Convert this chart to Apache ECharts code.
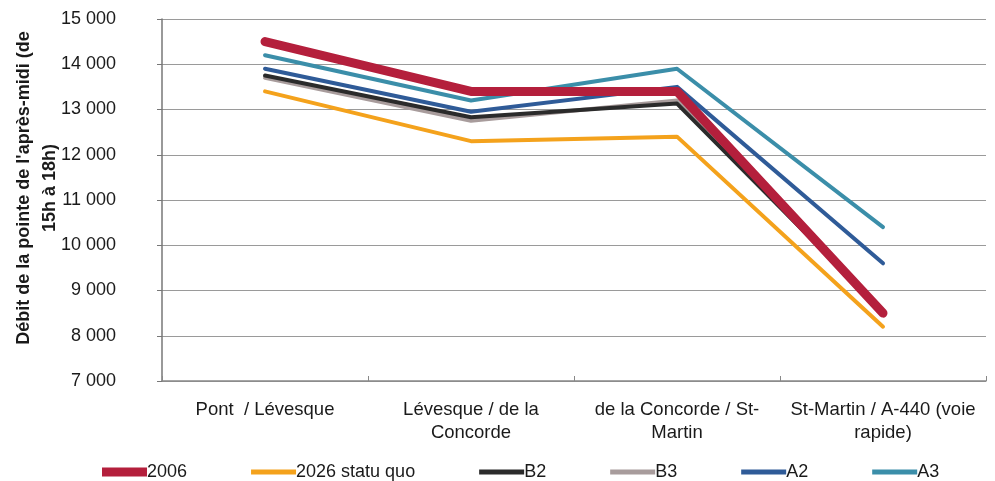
<!DOCTYPE html>
<html>
<head>
<meta charset="utf-8">
<script src="https://cdn.jsdelivr.net/npm/echarts@6/dist/echarts.min.js"></script>
<style>
html,body{margin:0;padding:0;background:#fff;}
#c{width:995px;height:481px;}
</style>
</head>
<body>
<div id="c"></div>
<script>
const categories = ['Pont  / Lévesque', 'Lévesque / de la\nConcorde', 'de la Concorde / St-\nMartin', 'St-Martin / A-440 (voie\nrapide)'];
const s2006 = [14500, 13400, 13400, 8500];
const s2026 = [13400, 12300, 12400, 8200];
const sB2 = [13750, 12830, 13130, 8550];
const sB3 = [13700, 12750, 13200, 8500];
const sA2 = [13900, 12950, 13500, 9600];
const sA3 = [14200, 13200, 13900, 10400];
const yTicks = { min: 7000, max: 15000, interval: 1000 };
const yTitle = "Débit de la pointe de l'après-midi (de\n15h à 18h)";

const FONT = '"Liberation Sans", Arial, sans-serif';
const thick = 'path://M0,0L45,0L45,9L0,9Z';
const thin = 'path://M0,0L45,0L45,5L0,5Z';

const seriesDefs = [
  { name: 'A3', data: sA3, color: '#3b8ea9', width: 4 },
  { name: 'B3', data: sB3, color: '#a89c9c', width: 4 },
  { name: 'B2', data: sB2, color: '#2b2b2b', width: 4 },
  { name: 'A2', data: sA2, color: '#2f5b98', width: 4 },
  { name: '2026 statu quo', data: s2026, color: '#f4a21c', width: 4 },
  { name: '2006', data: s2006, color: '#b41f3c', width: 9 }
];

const chart = echarts.init(document.getElementById('c'));
chart.setOption({
  animation: false,
  backgroundColor: '#fff',
  grid: { left: 162, right: 9, top: 19, bottom: 100, containLabel: false, outerBoundsMode: 'none' },
  legend: {
    left: 97, top: 458,
    itemWidth: 45, itemHeight: 9, itemGap: 64,
    textStyle: { fontFamily: FONT, fontSize: 18, color: '#1a1a1a', padding: [0,0,0,-5] },
    data: [
      { name: '2006', icon: thick },
      { name: '2026 statu quo', icon: thin },
      { name: 'B2', icon: thin },
      { name: 'B3', icon: thin },
      { name: 'A2', icon: thin },
      { name: 'A3', icon: thin }
    ]
  },
  xAxis: {
    type: 'category',
    data: categories,
    boundaryGap: true,
    axisLine: { lineStyle: { color: '#888', width: 1.5 } },
    axisTick: { show: true, inside: true, length: 5, lineStyle: { color: '#888' } },
    axisLabel: { fontFamily: FONT, fontSize: 18.5, color: '#1a1a1a', margin: 17, lineHeight: 23, interval: 0 }
  },
  yAxis: {
    type: 'value',
    min: yTicks.min, max: yTicks.max, interval: yTicks.interval,
    name: yTitle,
    nameLocation: 'middle',
    nameGap: 99,
    nameRotate: 90,
    nameMoveOverlap: false,
    nameTextStyle: { fontFamily: FONT, fontSize: 18, fontWeight: 'bold', color: '#1a1a1a', lineHeight: 26, align: 'center', padding: [0, 0, 0, 24] },
    axisLine: { show: true, lineStyle: { color: '#777', width: 1.5 } },
    axisTick: { show: true, length: 5, lineStyle: { color: '#777' } },
    splitLine: { lineStyle: { color: '#9a9a9a', width: 1 } },
    axisLabel: {
      fontFamily: FONT, fontSize: 18, color: '#1a1a1a', margin: 46, align: 'right',
      formatter: v => String(v).replace(/\B(?=(\d{3})+(?!\d))/g, ' ')
    }
  },
  series: seriesDefs.map(d => ({
    name: d.name,
    type: 'line',
    data: d.data,
    symbol: 'none',
    color: d.color,
    lineStyle: { color: d.color, width: d.width, cap: 'round', join: 'round' },
    itemStyle: { color: d.color }
  }))
});
</script>
</body>
</html>
